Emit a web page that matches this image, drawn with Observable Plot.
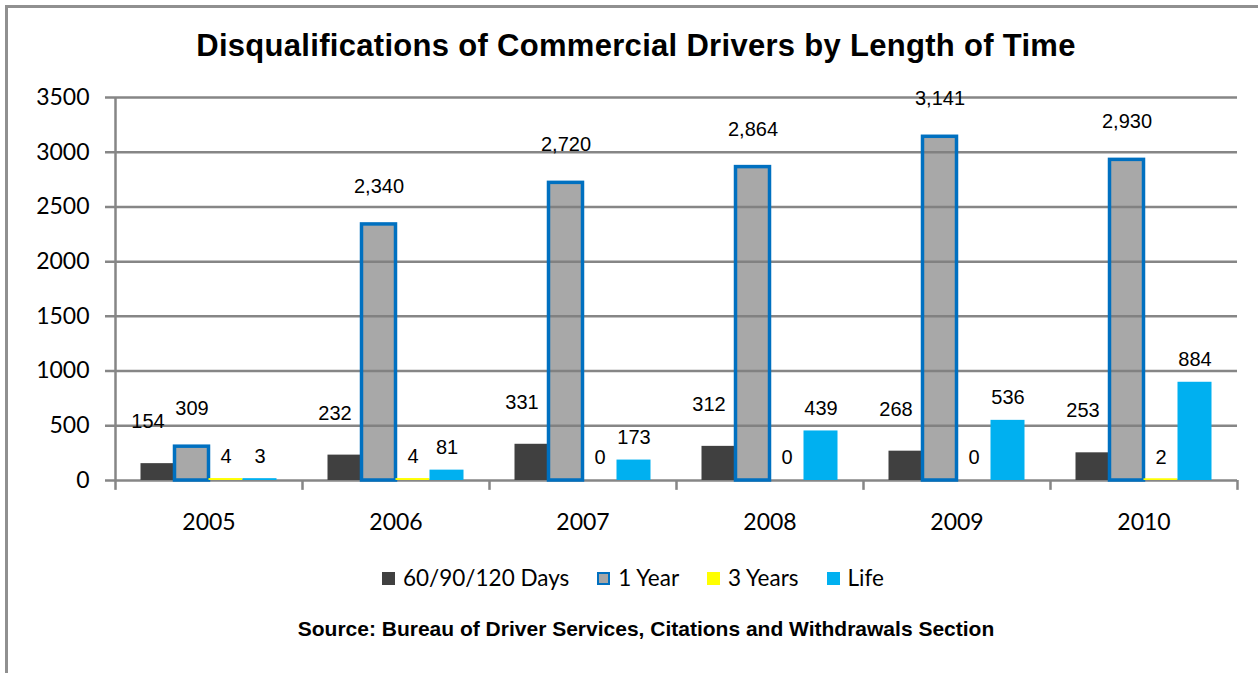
<!DOCTYPE html>
<html>
<head>
<meta charset="utf-8">
<script src="https://cdn.jsdelivr.net/npm/d3@7"></script>
<script src="https://cdn.jsdelivr.net/npm/@observablehq/plot@0.6"></script>
<style>
  html, body { margin: 0; padding: 0; background: #fff; width: 1258px; height: 673px; overflow: hidden; position: relative; }
  #frame { position: absolute; left: 5px; top: 5px; width: 1300px; height: 700px; border-top: 3px solid #909090; border-left: 3px solid #909090; box-sizing: border-box; }
  #title { position: absolute; left: 0; width: 1272px; top: 26px; text-align: center; font: bold 31px "Liberation Sans", Arial, sans-serif; letter-spacing: 0.3px; color: #000; line-height: 40px; }
  #chart { position: absolute; left: 0; top: 70px; }
  #legend { position: absolute; left: 382px; top: 563px; display: flex; align-items: center; font: 22.5px Lato, sans-serif; color: #000; line-height: 30px; }
  #legend .item { display: flex; align-items: center; margin-right: 28px; }
  #legend .sw { width: 13px; height: 13px; margin-right: 8px; box-sizing: border-box; }
  #source { position: absolute; left: 0; width: 1292px; top: 616px; text-align: center; font: bold 21px "Liberation Sans", Arial, sans-serif; color: #000; line-height: 26px; }
</style>
</head>
<body>
<div id="frame"></div>
<div id="title">Disqualifications of Commercial Drivers by Length of Time</div>
<div id="chart"></div>
<div id="legend"></div>
<div id="source">Source: Bureau of Driver Services, Citations and Withdrawals Section</div>
<script>
const years = ["2005", "2006", "2007", "2008", "2009", "2010"];
const seriesNames = ["60/90/120 Days", "1 Year", "3 Years", "Life"];
const days = [154, 232, 331, 312, 268, 253];
const oneYear = [309, 2340, 2720, 2864, 3141, 2930];
const threeYears = [4, 4, 0, 0, 0, 2];
const life = [3, 81, 173, 439, 536, 884];
const yTicks = [0, 500, 1000, 1500, 2000, 2500, 3000, 3500];

const seriesValues = [days, oneYear, threeYears, life];
const fills = ["#404040", "#7f7f7f", "#ffff00", "#00b0f0"];
const fillOpacity = [1, 0.68, 1, 1];
const strokes = ["none", "#0070c0", "none", "none"];
const minLift = [0, 0, 1.5, 1.5];
const labelDx = [-10, 0, 0, 0];
const labelDy = [-42, -38, -23, -24];

const W = 1258, H = 480, mL = 115, mR = 21, mT = 27, mB = 70;
const bw = (W - mL - mR) / years.length;
const pad = 25.5;
const barW = (bw - 2 * pad) / seriesNames.length;
const grid = "#868686";
const fmt = d3.format(",");

const rowsBySeries = seriesNames.map((name, i) =>
  years.map((year, j) => ({year, series: name, value: seriesValues[i][j]}))
);

const marks = [
  Plot.ruleY(yTicks, {y: d => d, stroke: grid, strokeWidth: 2.5, insetLeft: -10}),
  Plot.axisY({ticks: yTicks, tickSize: 0, tickPadding: 26, tickFormat: d => String(d), fontSize: 23, label: null}),
  // left axis line
  Plot.ruleX([years[0]], {x: d => d, y1: 3500, y2: 0, dx: -bw / 2, stroke: grid, strokeWidth: 2.5}),
  // category boundary ticks
  Plot.ruleX(years, {x: d => d, y1: 0, y2: -90, dx: -bw / 2, stroke: grid, strokeWidth: 2.5}),
  Plot.ruleX([years[years.length - 1]], {x: d => d, y1: 0, y2: -90, dx: bw / 2, stroke: grid, strokeWidth: 2.5}),
  Plot.text(years, {x: d => d, y: 0, dy: 42, text: d => d, fontSize: 23, lineAnchor: "middle"})
];

rowsBySeries.forEach((rows, i) => {
  marks.push(Plot.barY(rows, {
    x: "year", y: "value",
    filter: d => d.value > 0,
    insetLeft: pad + barW * i,
    insetRight: bw - pad - barW * (i + 1),
    insetTop: -minLift[i],
    fill: fills[i], fillOpacity: fillOpacity[i],
    stroke: strokes[i], strokeWidth: 3.5
  }));
});

rowsBySeries.forEach((rows, i) => {
  marks.push(Plot.text(rows, {
    x: "year", y: "value",
    text: d => fmt(d.value),
    dx: -bw / 2 + pad + barW * (i + 0.5) + labelDx[i],
    dy: labelDy[i],
    lineAnchor: "middle",
    fontSize: 20,
    fontFamily: "Liberation Sans, Arial, sans-serif",
    fill: "#000"
  }));
});

const chart = Plot.plot({
  width: W, height: H,
  marginLeft: mL, marginRight: mR, marginTop: mT, marginBottom: mB,
  style: {fontFamily: "Lato, sans-serif", fontSize: "23px", color: "#000", background: "transparent", overflow: "visible"},
  x: {domain: years, padding: 0, axis: null},
  y: {domain: [0, 3500], axis: null},
  marks
});
document.getElementById("chart").appendChild(chart);

const legend = document.getElementById("legend");
seriesNames.forEach((name, i) => {
  const item = document.createElement("div");
  item.className = "item";
  const sw = document.createElement("div");
  sw.className = "sw";
  sw.style.background = i === 1 ? "#a6a6a6" : fills[i];
  if (strokes[i] !== "none") sw.style.border = "2.5px solid " + strokes[i];
  const label = document.createElement("span");
  label.textContent = name;
  item.appendChild(sw);
  item.appendChild(label);
  legend.appendChild(item);
});
</script>
</body>
</html>
